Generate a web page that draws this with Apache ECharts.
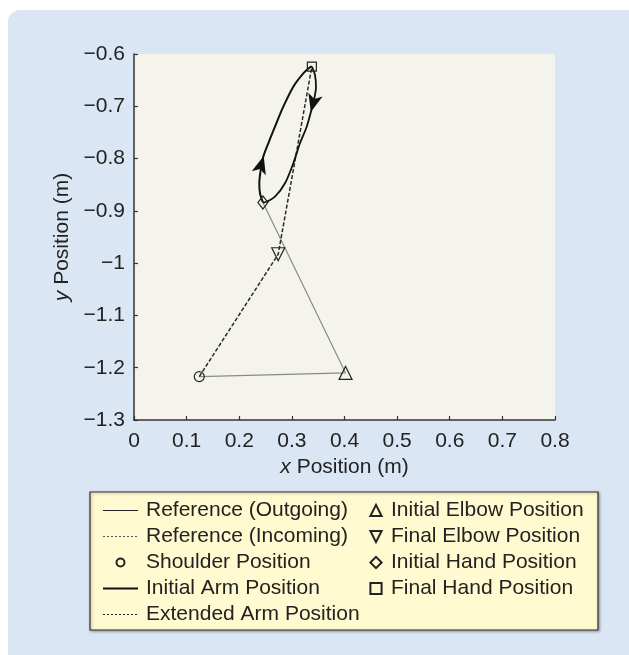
<!DOCTYPE html>
<html>
<head>
<meta charset="utf-8">
<style>
  html, body { margin: 0; padding: 0; background: #ffffff; }
  #chart { width: 629px; height: 655px; }
</style>
<script src="https://cdn.jsdelivr.net/npm/echarts@6/dist/echarts.min.js"></script>
</head>
<body>
<div id="chart"></div>
<script>
// Tick labels
const xTickLabels = ['0', '0.1', '0.2', '0.3', '0.4', '0.5', '0.6', '0.7', '0.8'];
const yTickLabels = ['\u22121.3', '\u22121.2', '\u22121.1', '\u22121', '\u22120.9', '\u22120.8', '\u22120.7', '\u22120.6'];

// Arm landmarks (x, y) in metres
const shoulder = [0.124, -1.217];
const initialElbow = [0.402, -1.210];
const finalElbow = [0.274, -0.983];
const initialHand = [0.245, -0.884];
const finalHand = [0.338, -0.624];

// Reference hand path, outgoing leg (initial hand -> final hand)
const outgoingPath = [
  [0.245, -0.884], [0.2394, -0.8664], [0.2381, -0.8473], [0.2408, -0.8218],
  [0.2457, -0.7964], [0.2552, -0.7708], [0.2679, -0.7390], [0.2837, -0.7008],
  [0.3027, -0.6625], [0.3217, -0.6369], [0.3344, -0.6254], [0.338, -0.624]
];
// Reference hand path, incoming leg (final hand -> initial hand)
const incomingPath = [
  [0.338, -0.624], [0.3439, -0.6402], [0.3458, -0.6625], [0.3420, -0.6880],
  [0.3363, -0.7103], [0.3282, -0.7390], [0.3154, -0.7708], [0.3027, -0.8090],
  [0.2869, -0.8473], [0.2679, -0.8729], [0.2522, -0.8825], [0.245, -0.884]
];
// Direction arrows on the reference path: position and heading (degrees)
const outgoingArrow = { at: [0.2465, -0.7950], heading: -16 };
const incomingArrow = { at: [0.3360, -0.7110], heading: 165 };

const FONT = '"Liberation Sans", Arial, Helvetica, sans-serif';
const INK = '#222222';

const hollow = { color: 'rgba(0,0,0,0)', borderColor: INK, borderWidth: 1.2 };

function arrowMark(a) {
  return {
    symbol: 'arrow',
    symbolSize: [11, 18],
    silent: true,
    label: { show: false },
    itemStyle: { color: '#111111' },
    data: [{ coord: a.at, symbolRotate: a.heading }]
  };
}

const chart = echarts.init(document.getElementById('chart'), null, { renderer: 'canvas' });

chart.setOption({
  animation: false,
  backgroundColor: '#ffffff',
  textStyle: { fontFamily: FONT, color: INK },
  graphic: [
    {
      type: 'rect', z: -100, silent: true,
      shape: { x: 8, y: 10, width: 640, height: 660, r: 12 },
      style: { fill: '#dbe6f4' }
    },
    {
      type: 'rect', z: 1, silent: true,
      shape: { x: 90, y: 492, width: 508, height: 138 },
      style: {
        fill: '#fffacf', stroke: '#333333', lineWidth: 1.2,
        shadowBlur: 3, shadowOffsetX: 1, shadowOffsetY: 1, shadowColor: 'rgba(0,0,0,0.35)'
      }
    }
  ],
  grid: {
    left: 134, top: 54, right: 74, bottom: 235,
    show: true, backgroundColor: '#f5f4ec', borderWidth: 0
  },
  xAxis: {
    type: 'value', min: 0, max: 0.8, interval: 0.1,
    axisLine: { show: true, lineStyle: { color: '#333333', width: 1.5 } },
    axisTick: { show: true, inside: true, length: 4, lineStyle: { color: '#333333', width: 1.2 } },
    splitLine: { show: false },
    axisLabel: {
      fontSize: 21, color: INK, margin: 11,
      formatter: v => xTickLabels[Math.round(v * 10)]
    },
    name: '{i|x} Position (m)',
    nameLocation: 'middle', nameGap: 37,
    nameTextStyle: {
      fontSize: 21, color: INK,
      rich: { i: { fontStyle: 'italic', fontSize: 21, color: INK } }
    }
  },
  yAxis: {
    type: 'value', min: -1.3, max: -0.6, interval: 0.1,
    axisLine: { show: true, lineStyle: { color: '#333333', width: 1.5 } },
    axisTick: { show: true, inside: true, length: 4, lineStyle: { color: '#333333', width: 1.2 } },
    splitLine: { show: false },
    axisLabel: {
      fontSize: 21, color: INK, margin: 9,
      formatter: v => yTickLabels[Math.round(v * 10) + 13]
    },
    name: '{i|y} Position (m)',
    nameLocation: 'middle', nameGap: 61, nameRotate: 90,
    nameTextStyle: {
      fontSize: 21, color: INK,
      rich: { i: { fontStyle: 'italic', fontSize: 21, color: INK } }
    }
  },
  legend: [
    {
      orient: 'vertical', left: 102, top: 500,
      padding: 0, itemGap: 5, itemWidth: 35, itemHeight: 10,
      textStyle: { fontSize: 21, color: INK, lineHeight: 21, padding: [0, 0, 0, 3] },
      selectedMode: false,
      data: [
        { name: 'Reference (Outgoing)', lineStyle: { color: INK, width: 1, type: 'solid' }, itemStyle: { opacity: 0 } },
        { name: 'Reference (Incoming)', lineStyle: { color: '#555555', width: 1, type: [2, 2] }, itemStyle: { opacity: 0 } },
        { name: 'Shoulder Position', lineStyle: { opacity: 0, width: 0 } },
        { name: 'Initial Arm Position', lineStyle: { color: '#111111', width: 2, type: 'solid' }, itemStyle: { opacity: 0 } },
        { name: 'Extended Arm Position', lineStyle: { color: INK, width: 1, type: [2, 2] }, itemStyle: { opacity: 0 } }
      ]
    },
    {
      orient: 'vertical', left: 366, top: 500,
      padding: 0, itemGap: 5, itemWidth: 20, itemHeight: 14,
      textStyle: { fontSize: 21, color: INK, lineHeight: 21 },
      selectedMode: false,
      data: [
        { name: 'Initial Elbow Position', lineStyle: { opacity: 0, width: 0 } },
        { name: 'Final Elbow Position', lineStyle: { opacity: 0, width: 0 } },
        { name: 'Initial Hand Position', lineStyle: { opacity: 0, width: 0 } },
        { name: 'Final Hand Position', lineStyle: { opacity: 0, width: 0 } }
      ]
    }
  ],
  series: [
    {
      name: 'Reference (Outgoing)', type: 'line', data: outgoingPath,
      smooth: 0.3, symbol: 'none', z: 3,
      lineStyle: { color: '#111111', width: 2 }, itemStyle: { color: '#111111' },
      markPoint: arrowMark(outgoingArrow)
    },
    {
      name: 'Reference (Incoming)', type: 'line', data: incomingPath,
      smooth: 0.3, symbol: 'none', z: 3,
      lineStyle: { color: '#111111', width: 1.8 }, itemStyle: { color: '#111111' },
      markPoint: arrowMark(incomingArrow)
    },
    {
      name: 'Initial Arm Position', type: 'line', data: [shoulder, initialElbow, initialHand],
      symbol: 'none', z: 2,
      lineStyle: { color: '#8a8a8a', width: 1.2 }, itemStyle: { color: '#8a8a8a' }
    },
    {
      name: 'Extended Arm Position', type: 'line', data: [shoulder, finalElbow, finalHand],
      symbol: 'none', z: 2,
      lineStyle: { color: '#2a2a2a', width: 1.5, type: [4, 2] }, itemStyle: { color: '#2a2a2a' }
    },
    {
      name: 'Shoulder Position', type: 'line', data: [shoulder],
      symbol: 'circle', symbolSize: 10, z: 5,
      lineStyle: { width: 0 }, itemStyle: hollow
    },
    {
      name: 'Initial Elbow Position', type: 'line', data: [initialElbow],
      symbol: 'triangle', symbolSize: 13, z: 5,
      lineStyle: { width: 0 }, itemStyle: hollow
    },
    {
      name: 'Final Elbow Position', type: 'line', data: [finalElbow],
      symbol: 'triangle', symbolRotate: 180, symbolSize: 13, z: 5,
      lineStyle: { width: 0 }, itemStyle: hollow
    },
    {
      name: 'Initial Hand Position', type: 'line', data: [initialHand],
      symbol: 'diamond', symbolSize: [10, 13], z: 5,
      lineStyle: { width: 0 }, itemStyle: hollow
    },
    {
      name: 'Final Hand Position', type: 'line', data: [finalHand],
      symbol: 'rect', symbolSize: 9, z: 5,
      lineStyle: { width: 0 }, itemStyle: hollow
    }
  ]
});
</script>
</body>
</html>
